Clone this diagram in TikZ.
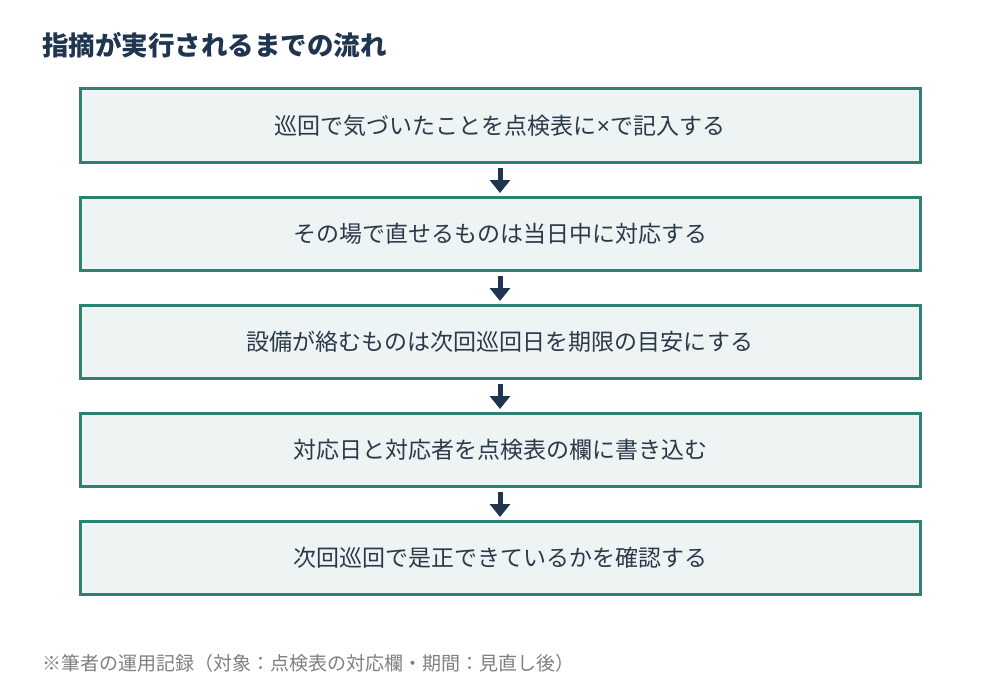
\documentclass[tikz,border=0pt]{standalone}
\usepackage{fontspec}
\setmainfont{Noto Sans CJK JP}
\newfontfamily\latinsans{Noto Sans}
\usetikzlibrary{arrows.meta}
\definecolor{navy}{HTML}{1F3550}
\definecolor{teal}{HTML}{2E8073}
\definecolor{boxfill}{HTML}{EEF4F4}
\definecolor{txt}{HTML}{2B3A4A}
\definecolor{note}{HTML}{808080}
\tikzset{
  stepbox/.style={draw=teal, line width=3pt, fill=boxfill, minimum width=840pt, minimum height=73pt, inner sep=0pt, text=txt, font=\fontsize{23pt}{27pt}\selectfont},
  flowarrow/.style={draw=navy, line width=5pt, -{Triangle[width=20pt,length=13pt]}},
  titletext/.style={anchor=west, inner sep=0pt, text=navy, font=\fontsize{26.5pt}{30pt}\selectfont\bfseries},
  notetext/.style={anchor=west, inner sep=0pt, text=note, font=\fontsize{19pt}{22pt}\selectfont}
}
\begin{document}
\begin{tikzpicture}[x=1pt,y=1pt]
\useasboundingbox[fill=white] (0,0) rectangle (1000,-690);
\node[titletext] (title) at (42,-45) {指摘が実行されるまでの流れ};
\node[stepbox] (b1) at (500,-125.5) {巡回で気づいたことを点検表に{\latinsans ×}で記入する};
\node[stepbox] (b2) at (500,-233.5) {その場で直せるものは当日中に対応する};
\node[stepbox] (b3) at (500,-341.5) {設備が絡むものは次回巡回日を期限の目安にする};
\node[stepbox] (b4) at (500,-449.5) {対応日と対応者を点検表の欄に書き込む};
\node[stepbox] (b5) at (500,-557.5) {次回巡回で是正できているかを確認する};
\foreach \a/\b in {b1/b2,b2/b3,b3/b4,b4/b5}
  \draw[flowarrow] ([yshift=-4.5pt]\a.south) -- ([yshift=2.5pt]\b.north);
\node[notetext] (note) at (42,-663) {※筆者の運用記録（対象：点検表の対応欄・期間：見直し後）};
\end{tikzpicture}
\end{document}
